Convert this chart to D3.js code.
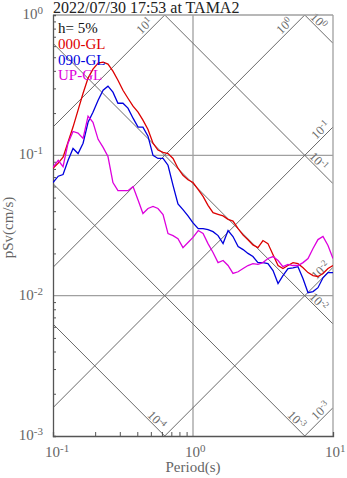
<!DOCTYPE html>
<html>
<head>
<meta charset="utf-8">
<script src="https://cdn.jsdelivr.net/npm/d3@7/dist/d3.min.js"></script>
<style>
body { margin: 0; background: #fff; }
text { font-family: "Liberation Serif", "Times New Roman", serif; }
</style>
</head>
<body>
<svg width="347" height="478"></svg>
<script>
// periods (s) and pseudo velocity response (cm/s)
var periods = [0.100, 0.109, 0.118, 0.128, 0.139, 0.151, 0.164, 0.178, 0.193, 0.210,
    0.228, 0.247, 0.268, 0.291, 0.316, 0.343, 0.373, 0.405, 0.439, 0.477,
    0.518, 0.562, 0.611, 0.663, 0.720, 0.781, 0.848, 0.921, 1.00, 1.09,
    1.18, 1.28, 1.39, 1.51, 1.64, 1.78, 1.93, 2.10, 2.28, 2.47,
    2.68, 2.91, 3.16, 3.43, 3.73, 4.05, 4.39, 4.77, 5.18, 5.62,
    6.11, 6.63, 7.20, 7.81, 8.48, 9.21, 10.0];

var sv000 = [0.081, 0.088, 0.097, 0.124, 0.159, 0.210, 0.277, 0.355, 0.411, 0.454,
    0.462, 0.447, 0.398, 0.343, 0.291, 0.255, 0.224, 0.203, 0.178, 0.153,
    0.122, 0.109, 0.105, 0.103, 0.095, 0.081, 0.072, 0.067, 0.064, 0.057,
    0.051, 0.044, 0.039, 0.038, 0.037, 0.035, 0.034, 0.030, 0.027, 0.025,
    0.023, 0.022, 0.0247, 0.0235, 0.0196, 0.0164, 0.0156, 0.0164, 0.0172, 0.0169,
    0.0158, 0.0146, 0.0139, 0.0137, 0.0144, 0.0156, 0.0164];

var sv090 = [0.064, 0.071, 0.073, 0.092, 0.112, 0.103, 0.122, 0.172, 0.203, 0.247,
    0.291, 0.311, 0.282, 0.235, 0.235, 0.217, 0.184, 0.159, 0.159, 0.137,
    0.100, 0.095, 0.095, 0.085, 0.061, 0.045, 0.041, 0.037, 0.033, 0.030,
    0.030, 0.0296, 0.0286, 0.0268, 0.0235, 0.0291, 0.0264, 0.0224, 0.0213, 0.0200,
    0.0190, 0.0172, 0.0172, 0.0169, 0.0151, 0.0122, 0.0139, 0.0156, 0.0158, 0.0161,
    0.0132, 0.0105, 0.0107, 0.0114, 0.0134, 0.0146, 0.0146];

var svUP = [0.082, 0.092, 0.083, 0.122, 0.148, 0.144, 0.132, 0.190, 0.172, 0.130,
    0.114, 0.098, 0.064, 0.056, 0.056, 0.056, 0.060, 0.048, 0.0385, 0.0418,
    0.0432, 0.0418, 0.0379, 0.0277, 0.0268, 0.0255, 0.0220, 0.0239, 0.0260, 0.0291,
    0.0277, 0.0235, 0.0203, 0.0172, 0.0178, 0.0164, 0.0144, 0.0148, 0.0156, 0.0164,
    0.0169, 0.0167, 0.0172, 0.0184, 0.0190, 0.0178, 0.0161, 0.0167, 0.0164, 0.0164,
    0.0172, 0.0184, 0.0217, 0.0251, 0.0264, 0.0228, 0.0184];

var seriesNames = ["000-GL", "090-GL", "UP-GL"];
var seriesColors = ["#dd0000", "#0000dd", "#dd00dd"];

// tripartite guide lines: acceleration (cm/s2) and displacement (cm)
var accLevels = [10, 1, 0.1, 0.01, 0.001];
var accExp = [1, 0, -1, -2, -3];
var dispLevels = [1, 0.1, 0.01, 0.001, 0.0001];
var dispExp = [0, -1, -2, -3, -4];

var xDecades = [0.1, 1, 10], xDecExp = [-1, 0, 1];
var yDecades = [0.001, 0.01, 0.1, 1], yDecExp = [-3, -2, -1, 0];

var svg = d3.select("svg"),
    margin = {top: 15, right: 14, bottom: 42, left: 53},
    width = 347 - margin.left - margin.right,
    height = 478 - margin.top - margin.bottom,
    g = svg.append("g").attr("transform", "translate(" + margin.left + "," + margin.top + ")");

var xScale = d3.scaleLog().domain([0.1, 10]).range([0, width]),
    yScale = d3.scaleLog().domain([0.001, 1]).range([height, 0]);

var TWO_PI = 2 * Math.PI;

svg.append("defs").append("clipPath").attr("id", "plotclip")
    .append("rect").attr("width", width).attr("height", height);

// grid
g.selectAll(".hgrid").data([0.01, 0.1]).enter().append("line")
    .attr("x1", 0).attr("x2", width)
    .attr("y1", function (d) { return yScale(d); })
    .attr("y2", function (d) { return yScale(d); })
    .attr("stroke", "#a0a0a0").attr("stroke-width", 1.3);
g.selectAll(".vgrid").data([1]).enter().append("line")
    .attr("y1", 0).attr("y2", height)
    .attr("x1", function (d) { return xScale(d); })
    .attr("x2", function (d) { return xScale(d); })
    .attr("stroke", "#a0a0a0").attr("stroke-width", 1.3);

// diagonal lines
var diag = g.append("g").attr("clip-path", "url(#plotclip)");
diag.selectAll(".acc").data(accLevels).enter().append("line")
    .attr("x1", xScale(0.1)).attr("x2", xScale(10))
    .attr("y1", function (d) { return yScale(d * 0.1 / TWO_PI); })
    .attr("y2", function (d) { return yScale(d * 10 / TWO_PI); })
    .attr("stroke", "#6a6a6a").attr("stroke-width", 1);
diag.selectAll(".disp").data(dispLevels).enter().append("line")
    .attr("x1", xScale(0.1)).attr("x2", xScale(10))
    .attr("y1", function (d) { return yScale(TWO_PI * d / 0.1); })
    .attr("y2", function (d) { return yScale(TWO_PI * d / 10); })
    .attr("stroke", "#6a6a6a").attr("stroke-width", 1);

function powerText(sel, exp, size) {
    sel.append("tspan").text("10");
    sel.append("tspan").attr("dy", "-0.45em").attr("font-size", size).text(exp);
}

var R2 = Math.SQRT1_2;
accLevels.forEach(function (a, i) {
    var tTop = TWO_PI / a, ex, ey, s;
    if (tTop < 10) { ex = xScale(tTop); ey = 0; s = 22; }
    else { ex = width; ey = yScale(a * 10 / TWO_PI); s = 11; }
    var d = 7;
    var cx = ex - s * R2 - d * R2, cy = ey + s * R2 - d * R2;
    var t = g.append("text")
        .attr("transform", "translate(" + cx + "," + cy + ") rotate(-45)")
        .attr("text-anchor", "middle").attr("dy", "0.35em")
        .attr("font-size", 12.5).attr("fill", "#6a6a6a");
    powerText(t, accExp[i], 9);
});
dispLevels.forEach(function (sd, i) {
    var tBot = TWO_PI * sd / 0.001, ex, ey, s;
    if (tBot < 10) { ex = xScale(tBot); ey = height; s = 17; }
    else { ex = width; ey = yScale(TWO_PI * sd / 10); s = 26; }
    var d = 6;
    var cx = ex - s * R2 + d * R2, cy = ey - s * R2 - d * R2;
    var t = g.append("text")
        .attr("transform", "translate(" + cx + "," + cy + ") rotate(45)")
        .attr("text-anchor", "middle").attr("dy", "0.35em")
        .attr("font-size", 12.5).attr("fill", "#6a6a6a");
    powerText(t, dispExp[i], 9);
});

// frame
g.append("line").attr("x1", 0).attr("x2", width).attr("y1", 0).attr("y2", 0)
    .attr("stroke", "#a0a0a0").attr("stroke-width", 1.3);
g.append("line").attr("x1", width).attr("x2", width).attr("y1", 0).attr("y2", height)
    .attr("stroke", "#a0a0a0").attr("stroke-width", 1.3);

// minor ticks
var minor = [];
[0.001, 0.01, 0.1].forEach(function (b) {
    for (var k = 2; k < 10; k++) minor.push(b * k);
});
var xMinor = minor.filter(function (v) { return v > 0.1 && v < 10; });
var yMinor = minor.filter(function (v) { return v > 0.001 && v < 1; });

var yAxis = d3.axisLeft(yScale).tickValues(yMinor).tickSize(-3).tickFormat("");
var gY = g.append("g").call(yAxis);
var xAxis = d3.axisBottom(xScale).tickValues(xMinor).tickSize(-4).tickFormat("");
var gX = g.append("g").attr("transform", "translate(0," + height + ")").call(xAxis);
[gX, gY].forEach(function (ax) {
    ax.select(".domain").attr("stroke", "#555").attr("stroke-width", 1.3);
    ax.selectAll(".tick line").attr("stroke", "#555");
});

// tick labels
yDecades.forEach(function (v, i) {
    var t = g.append("text").attr("x", -10).attr("y", yScale(v) + 4)
        .attr("text-anchor", "end").attr("font-size", 15).attr("fill", "#666");
    powerText(t, yDecExp[i], 11);
});
xDecades.forEach(function (v, i) {
    var t = g.append("text").attr("x", xScale(v) - 8).attr("y", height + 21)
        .attr("font-size", 15).attr("fill", "#666");
    powerText(t, xDecExp[i], 11);
});

g.append("text").attr("x", xScale(1)).attr("y", height + 36)
    .attr("text-anchor", "middle").attr("font-size", 15).attr("fill", "#666")
    .text("Period(s)");
g.append("text").attr("transform", "translate(-40," + (height / 2 + 2) + ") rotate(-90)")
    .attr("text-anchor", "middle").attr("font-size", 15).attr("fill", "#666")
    .text("pSv(cm/s)");

// curves
var line = d3.line()
    .x(function (d) { return xScale(d[0]); })
    .y(function (d) { return yScale(d[1]); });

var curves = g.append("g").attr("clip-path", "url(#plotclip)");
[sv000, sv090, svUP].forEach(function (vals, i) {
    curves.append("path")
        .datum(periods.map(function (p, j) { return [p, vals[j]]; }))
        .attr("fill", "none")
        .attr("stroke", seriesColors[i])
        .attr("stroke-width", 1.3)
        .attr("d", line);
});

// legend + title
g.append("text").attr("x", 5).attr("y", 18).attr("font-size", 15).attr("fill", "#111")
    .text("h= 5%");
seriesNames.forEach(function (n, i) {
    g.append("text").attr("x", 5).attr("y", 34 + i * 15.5).attr("font-size", 15)
        .attr("fill", seriesColors[i]).text(n);
});
svg.append("text").attr("x", 53).attr("y", 13).attr("font-size", 16).attr("fill", "#222")
    .text("2022/07/30 17:53 at TAMA2");
</script>
</body>
</html>
